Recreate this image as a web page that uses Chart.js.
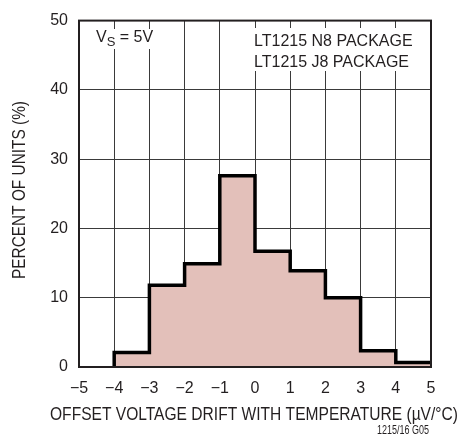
<!DOCTYPE html>
<html>
<head>
<meta charset="utf-8">
<script src="https://cdn.jsdelivr.net/npm/chart.js@4.4.1/dist/chart.umd.min.js"></script>
<style>
  html, body { margin: 0; padding: 0; background: #fff; }
  #wrap { width: 460px; height: 447px; position: relative; }
</style>
</head>
<body>
<div id="wrap"><canvas id="c" width="460" height="447"></canvas></div>
<script>
// Bin left edges (µV/°C) and percent of units per bin (bin width 1)
const binEdges = [-4, -3, -2, -1, 0, 1, 2, 3, 4, 5];
const percentOfUnits = [2.1, 11.8, 14.9, 27.6, 16.7, 13.9, 10.0, 2.35, 0.66];
const xTickValues = [-5, -4, -3, -2, -1, 0, 1, 2, 3, 4, 5];
const xTickLabels = ['\u22125', '\u22124', '\u22123', '\u22122', '\u22121', '0', '1', '2', '3', '4', '5'];
const yTickValues = [0, 10, 20, 30, 40, 50];
const annotationLines = ['LT1215 N8 PACKAGE', 'LT1215 J8 PACKAGE'];
const xTitle = 'OFFSET VOLTAGE DRIFT WITH TEMPERATURE (\u00B5V/\u00B0C)';
const yTitle = 'PERCENT OF UNITS (%)';
const figureId = '1215/16 G05';

const FONT = "'Liberation Sans Narrow', 'Arial Narrow', 'Liberation Sans', Arial, sans-serif";
const TXT = '#231f20';

// step outline points: start at baseline, then each bin's left edge, then closing right edge
const pts = [{ x: binEdges[0], y: 0 }];
for (let i = 0; i < percentOfUnits.length; i++) pts.push({ x: binEdges[i], y: percentOfUnits[i] });
pts.push({ x: binEdges[binEdges.length - 1], y: percentOfUnits[percentOfUnits.length - 1] });

const overlay = {
  id: 'overlay',
  afterDraw(chart) {
    const ctx = chart.ctx;
    const a = chart.chartArea;
    ctx.save();
    // frame
    ctx.strokeStyle = '#231f20';
    ctx.lineWidth = 2;
    ctx.strokeRect(a.left, a.top, a.right - a.left, a.bottom - a.top);
    // annotations with white backgrounds
    ctx.font = "16px " + FONT;
    ctx.textBaseline = 'alphabetic';
    // Vs = 5V
    const vx = 96, vy = 42;
    const wV = ctx.measureText('V').width;
    ctx.font = "13px " + FONT;
    const wS = ctx.measureText('S').width;
    ctx.font = "16px " + FONT;
    const wRest = ctx.measureText(' = 5V').width;
    ctx.fillStyle = '#fff';
    ctx.fillRect(vx - 2, vy - 13, wV + wS + wRest + 4, 20);
    ctx.fillStyle = TXT;
    ctx.fillText('V', vx, vy);
    ctx.font = "13px " + FONT;
    ctx.fillText('S', vx + wV, vy + 4);
    ctx.font = "16px " + FONT;
    ctx.fillText(' = 5V', vx + wV + wS, vy);
    // package lines
    const px = 254;
    const w1 = Math.max(ctx.measureText(annotationLines[0]).width, ctx.measureText(annotationLines[1]).width);
    ctx.fillStyle = '#fff';
    ctx.fillRect(px - 2, 28, w1 + 4, 43);
    ctx.fillStyle = TXT;
    ctx.fillText(annotationLines[0], px, 46);
    ctx.fillText(annotationLines[1], px, 67);
    // axis titles (condensed to the reference widths)
    ctx.textAlign = 'center';
    ctx.textBaseline = 'middle';
    ctx.font = "18px " + FONT;
    ctx.fillText(xTitle, 254, 415, 408);
    ctx.save();
    ctx.translate(20, 190);
    ctx.rotate(-Math.PI / 2);
    ctx.fillText(yTitle, 0, 0, 178);
    ctx.restore();
    // figure id (condensed)
    ctx.textAlign = 'left';
    ctx.textBaseline = 'alphabetic';
    ctx.font = "12px " + FONT;
    ctx.fillText(figureId, 377, 434, 52);
    ctx.restore();
  }
};

new Chart(document.getElementById('c'), {
  type: 'line',
  data: {
    datasets: [{
      data: pts,
      stepped: 'before',
      borderColor: '#000',
      borderWidth: 3.5,
      backgroundColor: '#e3c0ba',
      fill: 'origin',
      pointRadius: 0,
      tension: 0,
      borderJoinStyle: 'miter',
      borderCapStyle: 'butt'
    }]
  },
  options: {
    responsive: false,
    animation: false,
    devicePixelRatio: 1,
    layout: { padding: { left: 0, right: 29, top: 15, bottom: 0 } },
    plugins: { legend: { display: false }, tooltip: { enabled: false } },
    scales: {
      x: {
        type: 'linear',
        min: -5, max: 5,
        z: 1,
        afterBuildTicks(s) { s.ticks = xTickValues.map(v => ({ value: v })); },
        afterFit(s) { s.height = 80; },
        grid: { color: '#3a3a3a', lineWidth: 1, drawTicks: false },
        border: { display: false },
        ticks: {
          padding: 12,
          color: TXT,
          maxRotation: 0,
          autoSkip: false,
          font: { family: FONT, size: 16 },
          callback: (v) => { const i = xTickValues.indexOf(v); return i >= 0 ? xTickLabels[i] : ''; }
        },
        title: { display: false }
      },
      y: {
        type: 'linear',
        min: 0, max: 50,
        z: 1,
        afterBuildTicks(s) { s.ticks = yTickValues.map(v => ({ value: v })); },
        afterFit(s) { s.width = 79; },
        grid: { color: '#3a3a3a', lineWidth: 1, drawTicks: false },
        border: { display: false },
        ticks: {
          padding: 11,
          color: TXT,
          font: { family: FONT, size: 16 }
        },
        title: { display: false }
      }
    }
  },
  plugins: [overlay]
});
</script>
</body>
</html>
